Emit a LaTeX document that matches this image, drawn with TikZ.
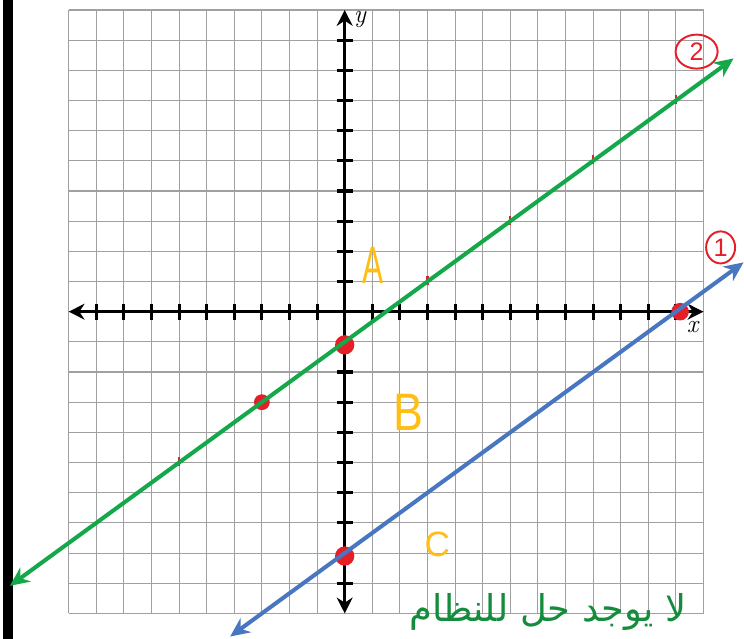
\documentclass[tikz,border=0pt]{standalone}
\usepackage{fontspec}
\setsansfont{Liberation Sans}
\newfontfamily\arabicfont[Script=Arabic]{DejaVu Sans}
\usetikzlibrary{arrows.meta,shapes.geometric}
\TeXXeTstate=1
\definecolor{gridgray}{RGB}{160,160,160}
\definecolor{lgreen}{RGB}{20,168,75}
\definecolor{lblue}{RGB}{72,118,192}
\definecolor{mred}{RGB}{230,30,40}
\definecolor{myellow}{RGB}{255,190,20}
\definecolor{tgreen}{RGB}{20,140,60}
\tikzset{
  gridline/.style={draw=gridgray, line width=0.6pt},
  axisline/.style={draw=black, line width=2pt},
  axisarrow/.style={axisline, {Stealth[length=9pt,width=9pt]}-{Stealth[length=9pt,width=9pt]}},
  tickmark/.style={draw=black, line width=1.8pt},
  graphline/.style={line width=2.3pt, {Stealth[length=11pt,width=10pt]}-{Stealth[length=11pt,width=10pt]}},
  reddot/.style={circle, fill=mred, inner sep=0pt, minimum size=#1},
  redmark/.style={draw=mred, line width=1.2pt},
  region/.style={text=myellow, font=\sffamily\bfseries, inner sep=0pt},
  circled/.style={draw=mred, line width=1.1pt, ellipse, text=mred, font=\sffamily\Large, inner sep=1pt},
  axlabel/.style={font=\Large\itshape, inner sep=0pt}
}
\begin{document}
\begin{tikzpicture}[x=0.552cm, y=0.6034cm]
\useasboundingbox (-12.489,-10.849) rectangle (14.467,10.331);
% left black bar
\fill[black] (-12.37,-10.849) rectangle (-12.01,10.331);
% grid
\foreach \i in {-10,...,13} \draw[gridline] (\i,-10) -- (\i,10);
\foreach \j in {-10,...,10} \draw[gridline] (-10,\j) -- (13,\j);
% axes
\coordinate (xl) at (-10,0);
\coordinate (xr) at (13,0);
\coordinate (yb) at (0,-10);
\coordinate (yt) at (0,10);
\draw[axisarrow] (xl) -- (xr);
\draw[axisarrow] (yb) -- (yt);
\foreach \i in {-9,...,-1,1,2,...,12} \draw[tickmark] (\i,-0.27) -- (\i,0.27);
\foreach \j in {-9,...,-1,1,2,...,9} \draw[tickmark] (-0.29,\j) -- (0.29,\j);
\node[axlabel] (ylab) at (0.55,9.7) {y};
\node[axlabel] (xlab) at (12.6,-0.5) {x};
% red marks on green line
\foreach \p in {(-6,-5),(3,1),(6,3),(9,5),(12,7)} \draw[redmark] \p ++(0,-0.12) -- ++(0,0.3);
% lines
\coordinate (g1) at (-12.13,-9.087);
\coordinate (g2) at (14.09,8.393);
\coordinate (b1) at (-4.15,-10.767);
\coordinate (b2) at (14.45,1.633);
\node[reddot=11pt] (p1) at (0,-1.1) {};
\node[reddot=9pt] (p2) at (-3,-3) {};
\node[reddot=11pt] (p3) at (0,-8.1) {};
\node[reddot=10pt] (p4) at (12.15,0) {};
\draw[graphline, draw=lgreen, fill=lgreen] (g1) -- (g2);
\draw[graphline, draw=lblue, fill=lblue] (b1) -- (b2);
% region labels
\node[region, font=\sffamily\fontsize{30}{30}\selectfont, xscale=0.6] (A) at (1.025,1.55) {A};
\node[region, font=\sffamily\fontsize{30}{30}\selectfont, xscale=0.85] (B) at (2.32,-3.34) {B};
\node[region, font=\sffamily\fontsize{20}{20}\selectfont] (C) at (3.36,-7.73) {C};
% circled numbers
\node[circled, minimum width=0.84cm, minimum height=0.68cm] (n2) at (12.75,8.62) {2};
\node[circled, minimum width=0.58cm, minimum height=0.64cm] (n1) at (13.62,2.13) {1};
% arabic note
\node[text=tgreen, inner sep=0pt] (note) at (7.37,-9.95) {\arabicfont\fontsize{21}{25}\selectfont\beginR لا يوجد حل للنظام\endR};
\end{tikzpicture}
\end{document}
